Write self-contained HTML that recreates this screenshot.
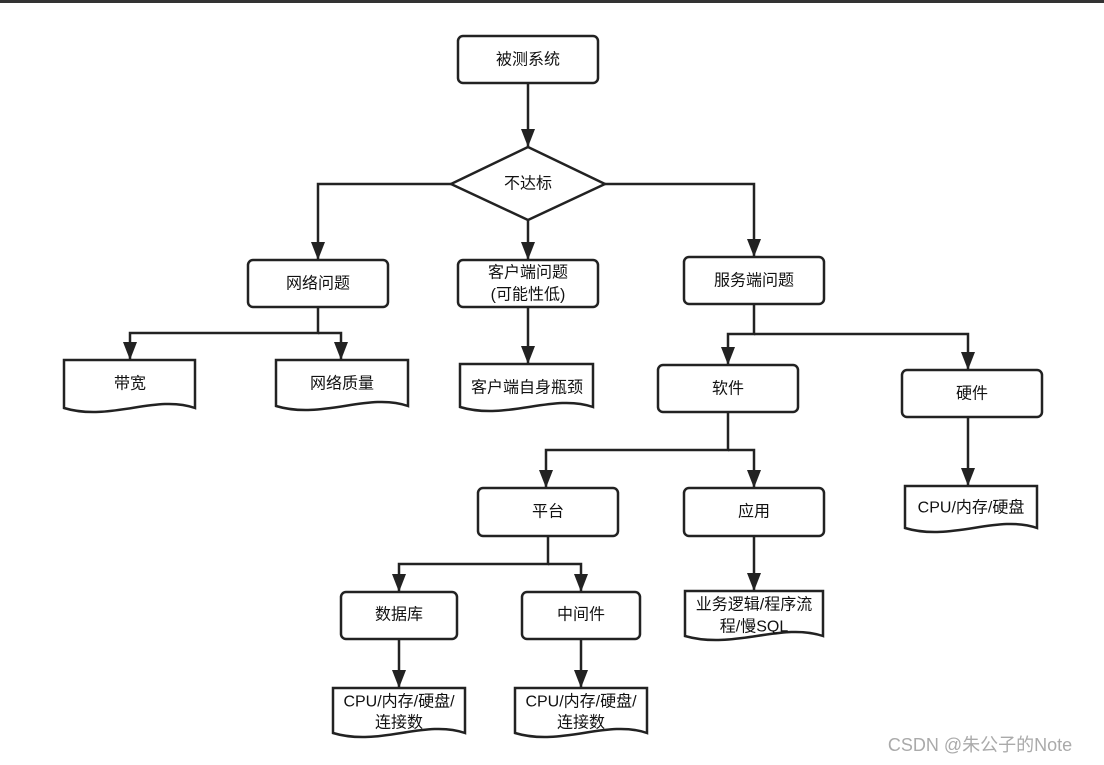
<!DOCTYPE html>
<html><head><meta charset="utf-8"><style>
body{margin:0;background:#fff}
svg{display:block}
text{font-family:"Liberation Sans","Noto Sans CJK SC",sans-serif;font-size:16px;fill:#111;text-anchor:middle;dominant-baseline:central}
</style></head><body>
<svg width="1104" height="765" viewBox="0 0 1104 765">
<defs>
<marker id="d" markerUnits="userSpaceOnUse" markerWidth="18" markerHeight="14" refX="18" refY="7" orient="auto" viewBox="0 0 18 14"><path d="M0,0 L18,7 L0,14 Z" fill="#222"/></marker></defs>
<rect x="0" y="0" width="1104" height="3" fill="#333"/>
<g fill="none" stroke="#222" stroke-width="2.5">
<path d="M528 83 V147" marker-end="url(#d)"/>
<path d="M451 184 H318 V260" marker-end="url(#d)"/>
<path d="M528 220 V260" marker-end="url(#d)"/>
<path d="M605 184 H754 V257" marker-end="url(#d)"/>
<path d="M318 307 V333 H130 V360" marker-end="url(#d)"/>
<path d="M318 333 H341 V360" marker-end="url(#d)"/>
<path d="M528 307 V364" marker-end="url(#d)"/>
<path d="M754 304 V334 H728 V365" marker-end="url(#d)"/>
<path d="M754 334 H968 V370" marker-end="url(#d)"/>
<path d="M728 412 V450 H546 V488" marker-end="url(#d)"/>
<path d="M728 450 H754 V488" marker-end="url(#d)"/>
<path d="M968 417 V486" marker-end="url(#d)"/>
<path d="M548 536 V564 H399 V592" marker-end="url(#d)"/>
<path d="M548 564 H581 V592" marker-end="url(#d)"/>
<path d="M754 536 V591" marker-end="url(#d)"/>
<path d="M399 639 V688" marker-end="url(#d)"/>
<path d="M581 639 V688" marker-end="url(#d)"/>
<rect x="458" y="36" width="140" height="47" rx="5"/>
<path d="M451 184 L528 147 L605 184 L528 220 Z"/>
<rect x="248" y="260" width="140" height="47" rx="5"/>
<rect x="458" y="260" width="140" height="47" rx="5"/>
<rect x="684" y="257" width="140" height="47" rx="5"/>
<rect x="658" y="365" width="140" height="47" rx="5"/>
<rect x="902" y="370" width="140" height="47" rx="5"/>
<rect x="478" y="488" width="140" height="48" rx="5"/>
<rect x="684" y="488" width="140" height="48" rx="5"/>
<rect x="341" y="592" width="116" height="47" rx="5"/>
<rect x="522" y="592" width="118" height="47" rx="5"/>
<path d="M64 360 H195 V408 C155.7 394 109.9 422 64 408 Z"/>
<path d="M276 360 H408 V406 C368.4 392 322.2 420 276 406 Z"/>
<path d="M460 364 H593 V407 C553 393 506.5 421 460 407 Z"/>
<path d="M905 486 H1037 V528 C997.4 514 951.2 542 905 528 Z"/>
<path d="M685 591 H823 V636 C781.6 622 733.3 650 685 636 Z"/>
<path d="M333 688 H465 V733 C425.4 719 379.2 747 333 733 Z"/>
<path d="M515 688 H647 V733 C607.4 719 561.2 747 515 733 Z"/>
</g>
<text x="528" y="60">被测系统</text>
<text x="528" y="184">不达标</text>
<text x="318" y="284">网络问题</text>
<text x="528" y="273">客户端问题</text>
<text x="528" y="295">(可能性低)</text>
<text x="754" y="281">服务端问题</text>
<text x="130" y="384">带宽</text>
<text x="342" y="384">网络质量</text>
<text x="527" y="388">客户端自身瓶颈</text>
<text x="728" y="389">软件</text>
<text x="972" y="394">硬件</text>
<text x="548" y="512">平台</text>
<text x="754" y="512">应用</text>
<text x="971" y="508">CPU/内存/硬盘</text>
<text x="399" y="615">数据库</text>
<text x="581" y="615">中间件</text>
<text x="754" y="605">业务逻辑/程序流</text>
<text x="754" y="627">程/慢SQL</text>
<text x="399" y="702">CPU/内存/硬盘/</text>
<text x="399" y="723">连接数</text>
<text x="581" y="702">CPU/内存/硬盘/</text>
<text x="581" y="723">连接数</text>
<text x="980" y="745" style="font-size:18px;fill:#aaa">CSDN @朱公子的Note</text>
</svg>
</body></html>
